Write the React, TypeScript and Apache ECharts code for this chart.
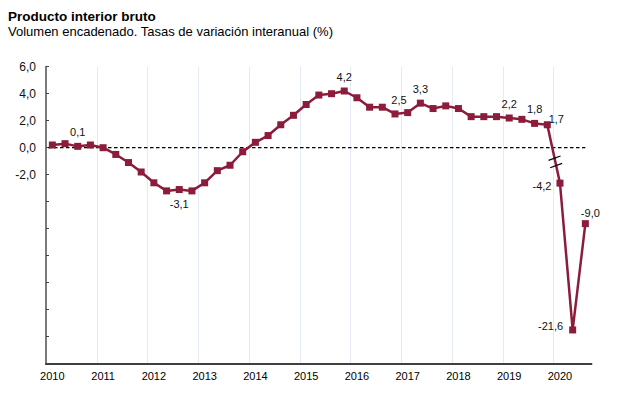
import React, { useEffect, useRef } from "react";
import * as echarts from "echarts";

// ---- data ----
const years = [2010, 2011, 2012, 2013, 2014, 2015, 2016, 2017, 2018, 2019, 2020];
const quartersPerYear = ["T1", "T2", "T3", "T4"];
// interannual GDP growth (%) per quarter, 2010T1 .. 2020T3
const growth = [
  0.2, 0.3, 0.1, 0.2,
  0.0, -0.5, -1.1, -1.8,
  -2.6, -3.2, -3.1, -3.2,
  -2.6, -1.7, -1.3, -0.3,
  0.4, 0.9, 1.7, 2.4,
  3.2, 3.9, 4.0, 4.2,
  3.7, 3.0, 3.0, 2.5,
  2.6, 3.3, 2.9, 3.1,
  2.9, 2.3, 2.3, 2.3,
  2.2, 2.1, 1.8, 1.7,
  -4.2, -21.6, -9.0,
];
const labelledPoints = [2, 10, 23, 27, 29, 36, 38, 39, 40, 41, 42];
const yTickValues = [6, 4, 2, 0, -2];

// categories built from years
const categories: string[] = [];
years.forEach((y) => quartersPerYear.forEach((q) => categories.push(`${y}${q}`)));
categories.length = growth.length;

// broken axis: values below the break are drawn compressed
const BREAK_BELOW = -3.5;
const BREAK_SCALE = 0.625;
const toDisplay = (v: number) => (v < BREAK_BELOW ? v * BREAK_SCALE : v);
const fmt = (v: number) => v.toFixed(1).replace(".", ",");

const LINE_COLOR = "#8c1c3b";
const FONT = "'Liberation Sans', Arial, sans-serif";

const labelStyle: Record<number, any> = {
  2: { position: "top" },
  10: { position: "bottom" },
  23: { position: "top" },
  27: { position: "top", offset: [4, 0] },
  29: { position: "top" },
  36: { position: "top" },
  38: { position: "top" },
  39: { position: "top", offset: [9, 8] },
  40: { position: "left", offset: [0, 3] },
  41: { position: "left", offset: [-1, -4] },
  42: { position: "top", offset: [5, 3] },
};

export default function App() {
  const ref = useRef<HTMLDivElement>(null);
  useEffect(() => {
    document.body.style.margin = "0";
    if (!ref.current) return;
    const chart = echarts.init(ref.current, undefined, { renderer: "svg" });

    const seriesData = growth.map((v, i) => {
      const item: any = { value: toDisplay(v) };
      if (labelledPoints.includes(i)) {
        item.label = {
          show: true,
          formatter: fmt(v),
          fontSize: 11,
          fontFamily: FONT,
          color: "#111",
          ...labelStyle[i],
        };
      }
      return item;
    });

    const option: any = {
      animation: false,
      title: {
        text: "Producto interior bruto",
        subtext: "Volumen encadenado. Tasas de variación interanual (%)",
        left: 3,
        top: 4,
        itemGap: 2,
        textStyle: { fontSize: 13.5, fontWeight: "bold", color: "#000", fontFamily: FONT },
        subtextStyle: { fontSize: 13, color: "#000", fontFamily: FONT },
      },
      grid: { left: 46, right: 27.3, top: 66.7, bottom: 33.3, containLabel: false },
      xAxis: {
        type: "category",
        data: categories,
        boundaryGap: true,
        axisLine: { onZero: false, lineStyle: { color: "#000", width: 1.5 } },
        axisTick: { interval: 3, length: 4, lineStyle: { color: "#000", width: 1.5 } },
        axisLabel: {
          interval: 3,
          formatter: (v: string) => v.slice(0, 4),
          fontSize: 11,
          fontFamily: FONT,
          color: "#000",
          margin: 7,
        },
        splitLine: {
          show: true,
          interval: 3,
          showMaxLine: false,
          lineStyle: { color: "#e4ebf5", width: 1 },
        },
      },
      yAxis: {
        type: "value",
        min: -16,
        max: 6,
        interval: 2,
        axisLine: { show: true, onZero: false, lineStyle: { color: "#7a7a7a", width: 2 } },
        axisTick: { show: true, inside: true, length: 3, lineStyle: { color: "#444" } },
        axisLabel: {
          formatter: (v: number) => (yTickValues.includes(v) ? fmt(v) : ""),
          fontSize: 12,
          fontFamily: FONT,
          color: "#111",
          margin: 10,
        },
        splitLine: { show: false },
      },
      series: [
        {
          type: "line",
          data: seriesData,
          symbol: "rect",
          symbolSize: 7,
          lineStyle: { color: LINE_COLOR, width: 2.5 },
          itemStyle: { color: LINE_COLOR },
          z: 3,
        },
      ],
    };
    chart.setOption(option);

    // zero dashed line and axis break marks
    const last = growth.length - 1;
    const y0 = chart.convertToPixel({ yAxisIndex: 0 } as any, 0) as number;
    const pLast = chart.convertToPixel({ seriesIndex: 0 } as any, [last, toDisplay(growth[last])]) as number[];
    const gridLeft = 46;
    const bi = growth.findIndex((v) => v < BREAK_BELOW);
    const pa = chart.convertToPixel({ seriesIndex: 0 } as any, [bi - 1, toDisplay(growth[bi - 1])]) as number[];
    const pb = chart.convertToPixel({ seriesIndex: 0 } as any, [bi, toDisplay(growth[bi])]) as number[];
    const marks: any[] = [];
    [-0.78, -1.32].forEach((val) => {
      const yy = chart.convertToPixel({ yAxisIndex: 0 } as any, val) as number;
      const t = (yy - pa[1]) / (pb[1] - pa[1]);
      const xx = pa[0] + t * (pb[0] - pa[0]);
      marks.push({
        type: "line",
        z: 20,
        shape: { x1: xx - 6, y1: yy + 2.2, x2: xx + 6, y2: yy - 2.2 },
        style: { stroke: "#000", lineWidth: 1.2 },
      });
    });
    chart.setOption({
      graphic: [
        {
          type: "line",
          z: 1,
          shape: { x1: gridLeft + 2, y1: y0, x2: pLast[0], y2: y0 },
          style: { stroke: "#000", lineWidth: 1.2, lineDash: [3.5, 2.5] },
        },
        ...marks,
      ],
    });

    return () => chart.dispose();
  }, []);
  return <div ref={ref} style={{ width: 619, height: 397 }} />;
}
